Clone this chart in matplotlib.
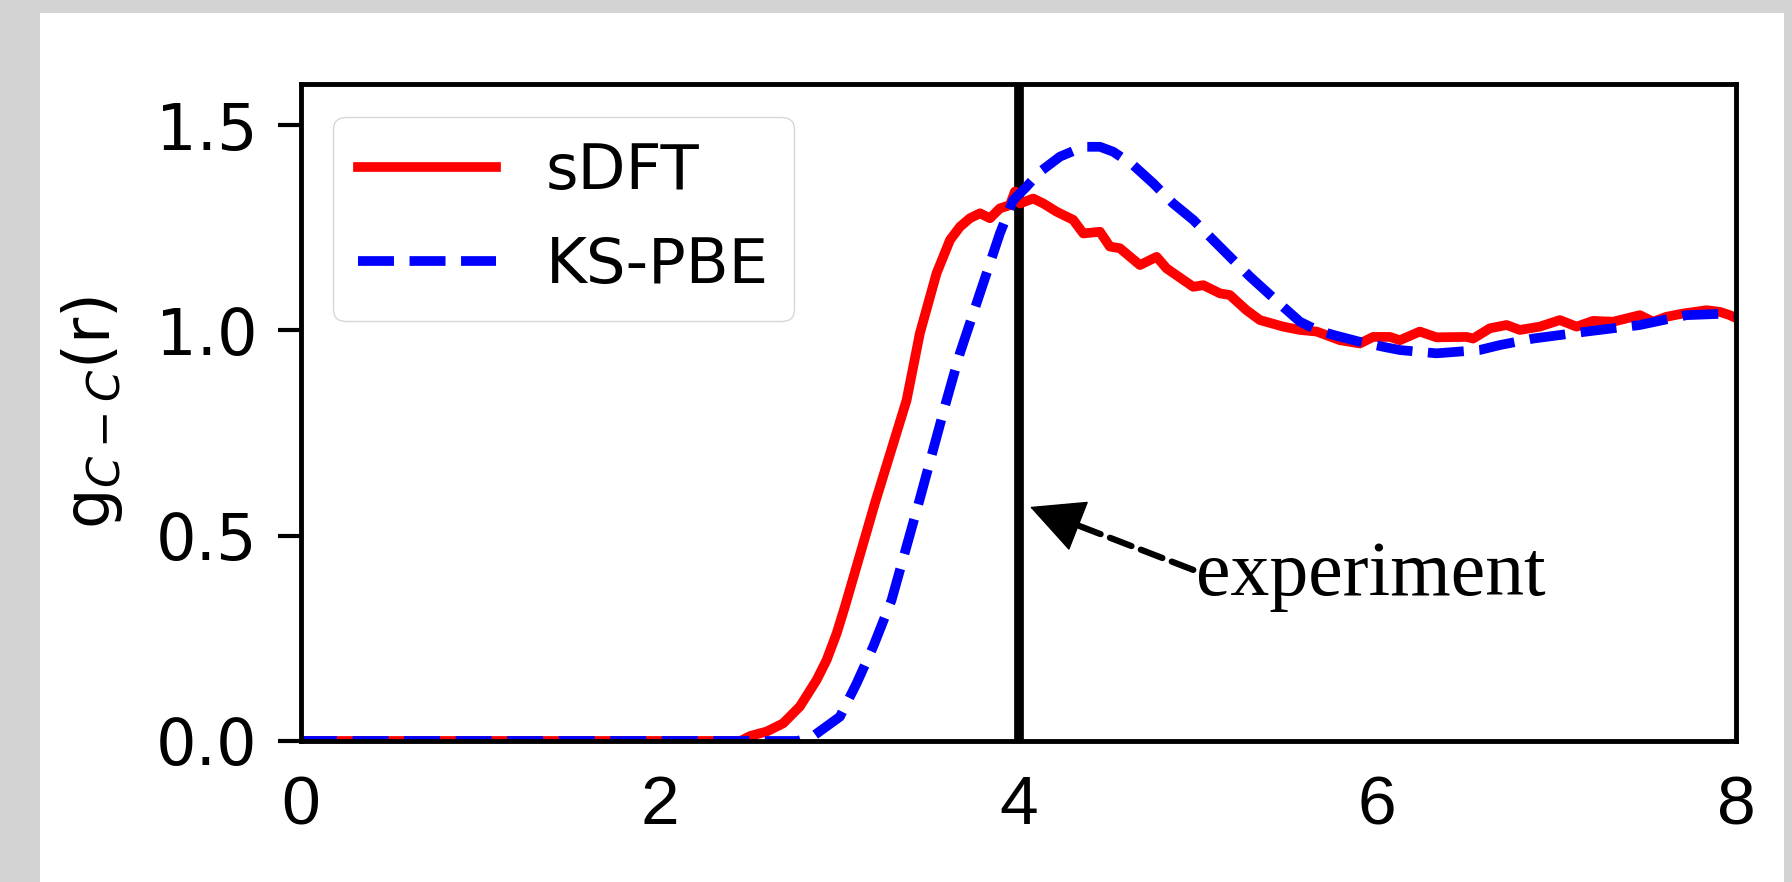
import matplotlib
matplotlib.use("Agg")
import matplotlib.pyplot as plt
from matplotlib.patches import Rectangle

# g_C-C(r)
r_sdft = [0.0, 1.0, 2.0, 2.45, 2.503, 2.596, 2.688, 2.781, 2.875, 2.93, 2.986, 3.032,
          3.2, 3.376, 3.45, 3.543, 3.618, 3.673, 3.729, 3.785, 3.841, 3.896, 3.952,
          3.98, 4.008, 4.082, 4.138, 4.212, 4.305, 4.361, 4.454, 4.509, 4.565,
          4.677, 4.77, 4.825, 4.974, 5.03, 5.123, 5.178, 5.271, 5.346, 5.476,
          5.569, 5.662, 5.792, 5.903, 5.977, 6.07, 6.126, 6.237, 6.33, 6.498,
          6.535, 6.628, 6.721, 6.795, 6.906, 7.018, 7.111, 7.203, 7.315, 7.464,
          7.538, 7.612, 7.705, 7.836, 7.91, 7.965, 8.0]
g_sdft = [0.0, 0.0, 0.0, 0.0, 0.012, 0.023, 0.043, 0.084, 0.149, 0.197, 0.262, 0.327,
          0.58, 0.83, 0.993, 1.139, 1.22, 1.252, 1.273, 1.285, 1.273, 1.297, 1.305,
          1.338, 1.309, 1.321, 1.309, 1.289, 1.269, 1.236, 1.24, 1.204, 1.2,
          1.159, 1.179, 1.151, 1.106, 1.11, 1.09, 1.086, 1.049, 1.025, 1.009,
          1.001, 0.997, 0.976, 0.968, 0.984, 0.984, 0.976, 0.997, 0.983, 0.984,
          0.98, 1.005, 1.013, 1.001, 1.009, 1.025, 1.009, 1.023, 1.021, 1.037,
          1.021, 1.033, 1.041, 1.049, 1.045, 1.037, 1.03]

r_pbe = [0.0, 1.0, 2.0, 2.77, 2.865, 3.004, 3.097, 3.19, 3.292, 3.45, 3.599, 3.673,
         3.747, 3.822, 3.896, 3.97, 4.045, 4.119, 4.231, 4.361, 4.454, 4.528,
         4.64, 4.751, 4.862, 4.974, 5.085, 5.197, 5.29, 5.383, 5.476, 5.569,
         5.662, 5.754, 5.903, 6.033, 6.126, 6.33, 6.57, 6.682, 6.869, 7.166,
         7.464, 7.724, 7.965, 8.0]
g_pbe = [0.0, 0.0, 0.0, 0.0, 0.015, 0.059, 0.14, 0.23, 0.343, 0.59, 0.83, 0.944,
         1.041, 1.139, 1.236, 1.317, 1.35, 1.386, 1.423, 1.447, 1.447, 1.435,
         1.402, 1.358, 1.309, 1.269, 1.22, 1.171, 1.131, 1.094, 1.057, 1.021,
         1.001, 0.989, 0.972, 0.96, 0.952, 0.944, 0.952, 0.964, 0.98, 0.997,
         1.013, 1.037, 1.041, 1.04]

r_experiment = 4.0
xticks = [0, 2, 4, 6, 8]
yticks = [0.0, 0.5, 1.0, 1.5]

fig = plt.figure(figsize=(17.92, 8.82), dpi=100, facecolor="#d3d3d3")
# white panel inside the grey border
fig.patches.append(Rectangle((40 / 1792, 0.0), 1744 / 1792, 869 / 882,
                             transform=fig.transFigure, facecolor="white",
                             edgecolor="none", zorder=-10))

ax = fig.add_axes([0.168, 0.1599, 0.80075, 0.7449])
ax.axvline(r_experiment, color="black", lw=7)
ax.plot(r_sdft, g_sdft, color="red", lw=7, label="sDFT")
ax.plot(r_pbe, g_pbe, color="blue", lw=7, ls="--", label="KS-PBE")

ax.set_xlim(0, 8)
ax.set_ylim(0, 1.6)
ax.set_xticks(xticks)
ax.set_xticklabels([str(t) for t in xticks], fontsize=50, family="Liberation Sans")
ax.set_yticks(yticks)
ax.set_yticklabels([f"{t:.1f}" for t in yticks], fontsize=46)
ax.tick_params(axis="x", length=0, pad=24)
ax.tick_params(axis="y", length=16.5, width=3, pad=15)
for s in ax.spines.values():
    s.set_linewidth(3.5)

ax.set_ylabel("g$_{C-C}$(r)", fontsize=46, labelpad=22)

ax.legend(loc="upper left", bbox_to_anchor=(0.0223, 0.9498), borderaxespad=0,
          fontsize=45, handlelength=2.2, labelspacing=0.55)

# dashed shaft from the label, solid head at the line
tip = (4.064, 0.57)
ax.annotate("experiment", xy=tip, xytext=(4.99, 0.40),
            fontsize=56, family="Liberation Serif", va="center", ha="left",
            arrowprops=dict(arrowstyle="-", linestyle="--", lw=4.5, color="black",
                            relpos=(0, 0.58), shrinkA=0, shrinkB=20))
ax.annotate("", xy=tip, xytext=(4.35, 0.521),
            arrowprops=dict(arrowstyle="-|>", lw=1, color="black",
                            mutation_scale=90, shrinkA=0, shrinkB=0))

fig.savefig("out.png", dpi=100, facecolor=fig.get_facecolor())
